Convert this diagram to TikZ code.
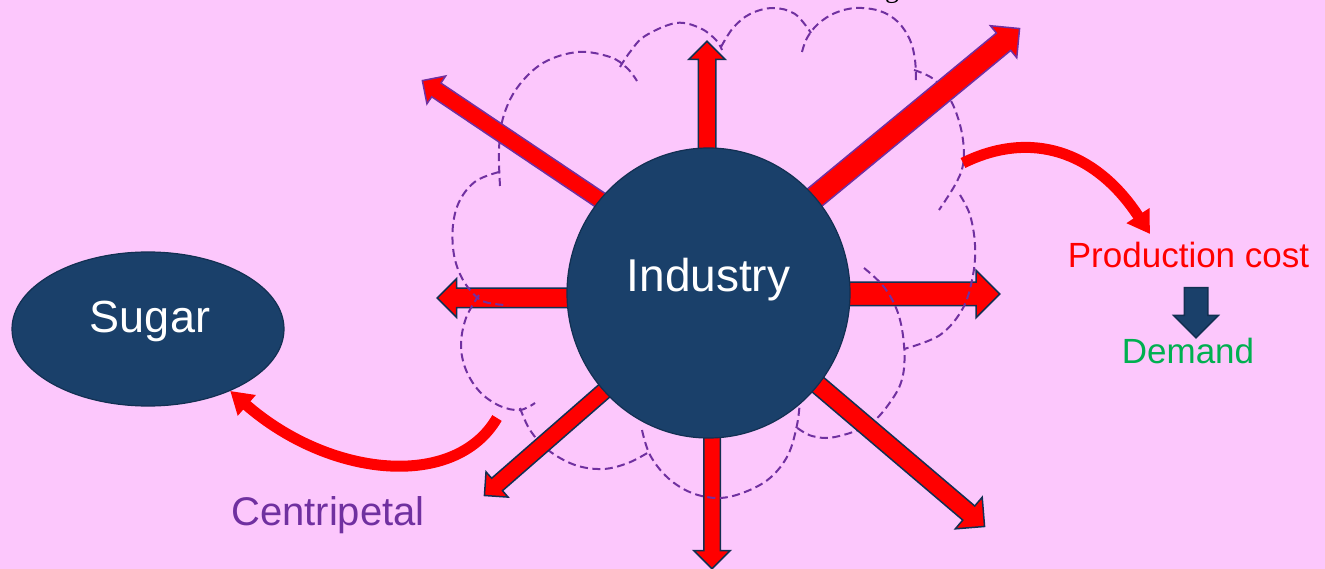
\documentclass[tikz,border=0pt]{standalone}
\usepackage{fontspec}
\setmainfont{Liberation Sans}
\newfontfamily\serifcut{Liberation Serif}
\usepackage{tikz}
\usetikzlibrary{shapes.geometric,shapes.arrows,calc,arrows.meta}

\definecolor{bgpink}{RGB}{252,199,252}
\definecolor{hubblue}{RGB}{26,64,106}
\definecolor{hubline}{RGB}{18,48,82}
\definecolor{cloudpurple}{RGB}{112,48,160}
\definecolor{demandgreen}{RGB}{0,176,80}

\tikzset{
  blob/.style={ellipse, draw=hubline, line width=1.2pt, fill=hubblue, inner sep=0pt},
  word/.style={anchor=base, inner sep=0pt, font=\fontsize{#1}{#1}\selectfont},
  spokearrow/.style={single arrow, fill=red, draw=hubline, line width=1.5pt, inner xsep=0pt},
  puff/.style={cloudpurple, line width=2pt, dash pattern=on 8pt off 4.5pt},
  curvearrow/.style={red, line width=11pt, -{Triangle[length=22pt,width=26pt]}},
}

% block arrow #2 from #3 to #4, shaft half width #5, head extend #6
\newcommand\spoke[6][]{%
  \path let \p1=($(#4)-(#3)$), \n1={atan2(\y1,\x1)}, \n2={veclen(\x1,\y1)} in
    node[spokearrow, #1, rotate=\n1, minimum height=\n2, inner ysep=#5,
         single arrow head extend=#6, anchor=tail] (#2) at (#3) {};}

\begin{document}
\begin{tikzpicture}[x=1pt,y=-1pt]
  \path[use as bounding box, fill=bgpink] (0,0) rectangle (1325,569);
  \node[word=28, font=\serifcut\fontsize{28}{28}\selectfont] (topg) at (892,-2) {g};

  % straight spokes, tails hidden under the hub
  \spoke{up}{707,160}{707,42}{8}{9.5}
  \spoke{down}{712,428}{712,568}{7.5}{10}
  \spoke{left}{580,298}{438,298}{9}{9.5}
  \spoke{right}{835,294}{999,294}{11}{12}

  % cloud outline
  \draw[puff] plot[smooth, tension=0.6] coordinates {(500,186) (499,150) (503,118) (517,88) (543,63) (578,52) (610,57) (627,68) (637,81)};
  \draw[puff] plot[smooth, tension=0.6] coordinates {(620,67) (630,52) (645,36) (676,23) (700,28) (716,40) (722,50)};
  \draw[puff] plot[smooth, tension=0.6] coordinates {(721,47) (733,28) (750,14) (773,8) (795,14) (811,33)};
  \draw[puff] plot[smooth, tension=0.6] coordinates {(802,52) (807,38) (818,24) (835,13) (856,8) (880,11) (898,22) (910,40) (915,60) (916,82)};
  \draw[puff] plot[smooth, tension=0.6] coordinates {(914,70) (932,78) (947,94) (957,115) (963,140) (963,165) (955,185) (939,210)};
  \draw[puff] plot[smooth, tension=0.6] coordinates {(960,195) (970,215) (975,245) (973,275) (963,308) (940,335) (904,349)};
  \draw[puff] plot[smooth, tension=0.6] coordinates {(864,268) (884,287) (898,313) (904,345) (903,375) (893,398) (870,424) (835,437) (812,436) (796,427)};
  \draw[puff] plot[smooth, tension=0.6] coordinates {(642,430) (650,455) (668,478) (692,493) (719,498) (745,492) (770,478) (788,455) (797,425) (800,400)};
  \draw[puff] plot[smooth, tension=0.6] coordinates {(520,408) (530,430) (548,450) (575,465) (603,469) (628,463) (649,452)};
  \draw[puff] plot[smooth, tension=0.6] coordinates {(479,295) (466,318) (461,345) (466,370) (480,392) (500,406) (520,410) (535,403)};
  \draw[puff] plot[smooth, tension=0.6] coordinates {(499,172) (476,181) (460,200) (453,225) (454,255) (463,280) (479,299) (495,304) (508,305)};

  % diagonal spokes
  \spoke[draw=cloudpurple]{upleft}{606,204}{423,81}{7.5}{8.5}
  \spoke[draw=cloudpurple]{upright}{808,203}{1019,29}{10.5}{9.5}
  \spoke{downleft}{611,385}{485,495}{7.5}{8.5}
  \spoke{downright}{810,378}{984,526}{8.5}{11.5}

  \node[blob, minimum width=283pt, minimum height=290pt] (hub) at (708.5,293) {};
  \node[word=46, white] (hubname) at ([yshift=2pt]hub.center) {Industry};

  \node[blob, minimum width=272pt, minimum height=154pt] (sugar) at (148,329) {};
  \node[word=45, white] (sugarname) at ([xshift=2pt,yshift=-3pt]sugar.center) {Sugar};

  \node[word=35, red] (cost) at (1188.5,268) {Production cost};
  \node[word=35, demandgreen] (demand) at (1188,363) {Demand};
  \node[word=40, cloudpurple] (centri) at (328,525) {Centripetal};

  \coordinate (pull) at (497,418);
  \coordinate (push) at (963,163);
  \coordinate (costin) at (1150,234);
  \draw[curvearrow] (pull) .. controls (455,490) and (330,478) .. (sugar.-37);
  \draw[curvearrow] (push) .. controls (1030,130) and (1095,150) .. (costin);

  \coordinate (droptop) at (1196,287);
  \coordinate (droptip) at (1196,337);
  \spoke[fill=hubblue]{drop}{droptop}{droptip}{11}{10.5}
\end{tikzpicture}
\end{document}
